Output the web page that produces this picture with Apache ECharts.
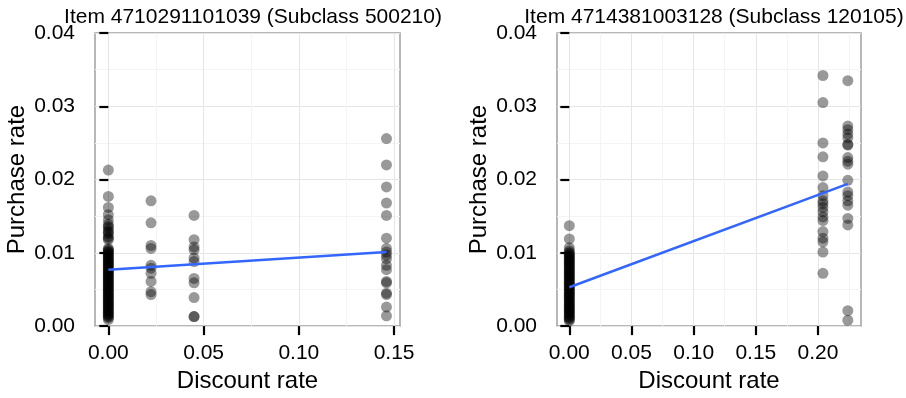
<!DOCTYPE html>
<html>
<head>
<meta charset="utf-8">
<script src="https://cdn.jsdelivr.net/npm/echarts@6/dist/echarts.min.js"></script>
<style>
    html, body { margin: 0; padding: 0; background: #fff; }
    #chart { width: 906px; height: 398px; }
</style>
</head>
<body>
<div id="chart"></div>
<script>
    // left panel: Item 4710291101039
    const title1 = 'Item 4710291101039 (Subclass 500210)';
    const discounts1 = [0, 0.0224, 0.045, 0.146];
    const rates1 = [
        [0.0213, 0.0177, 0.0162, 0.0152, 0.0145, 0.0139, 0.0136, 0.0134, 0.0130, 0.0128, 0.0126,
         0.0122, 0.0120, 0.0118,
         0.0106, 0.0103, 0.0100, 0.0097, 0.0094, 0.0091, 0.0088, 0.0085, 0.0082, 0.0079, 0.0076,
         0.0073, 0.0070, 0.0067, 0.0064, 0.0061, 0.0058, 0.0055, 0.0052, 0.0049, 0.0046, 0.0043,
         0.0040, 0.0037, 0.0034, 0.0031, 0.0028, 0.0025, 0.0022, 0.0019, 0.0016, 0.0013, 0.0009,
         0.01045, 0.01015, 0.00985, 0.00955, 0.00925, 0.00895, 0.00865, 0.00835, 0.00805, 0.00775,
         0.00745, 0.00715, 0.00685, 0.00655, 0.00625, 0.00595, 0.00565, 0.00535, 0.00505, 0.00475,
         0.00445, 0.00415, 0.00385, 0.00355, 0.00325, 0.00295, 0.00265, 0.00235, 0.00205, 0.00175,
         0.00145, 0.00115],
        [0.0171, 0.0141, 0.0110, 0.0106, 0.0083, 0.0079, 0.0072, 0.0061, 0.0047, 0.0043],
        [0.0151, 0.0118, 0.0108, 0.0104, 0.0093, 0.0088, 0.0065, 0.0059, 0.0039, 0.0013, 0.0013],
        [0.0256, 0.0220, 0.0190, 0.0168, 0.0151, 0.0120, 0.0106, 0.0101, 0.0097, 0.0092, 0.0083,
         0.0077, 0.0061, 0.0059, 0.0045, 0.0043, 0.0026, 0.0014]
    ];
    const fitX1 = [0, 0.146];
    const fitY1 = [0.0077, 0.0101];
    const xTicks1 = [0, 0.05, 0.10, 0.15];
    const xMinor1 = [0.025, 0.075, 0.125];

    // right panel: Item 4714381003128
    const title2 = 'Item 4714381003128 (Subclass 120105)';
    const discounts2 = [0, 0.204, 0.224];
    const rates2 = [
        [0.0137, 0.0119, 0.0107, 0.0103, 0.0099, 0.0096, 0.0093, 0.0090, 0.0087, 0.0084, 0.0081,
         0.0078, 0.0075, 0.0072, 0.0069, 0.0066, 0.0063, 0.0060, 0.0057, 0.0054, 0.0051, 0.0048,
         0.0045, 0.0042, 0.0039, 0.0036, 0.0033, 0.0030, 0.0027, 0.0024, 0.0021, 0.0018, 0.0015,
         0.0012, 0.0009, 0.0007,
         0.01005, 0.00975, 0.00945, 0.00915, 0.00885, 0.00855, 0.00825, 0.00795, 0.00765, 0.00735,
         0.00705, 0.00675, 0.00645, 0.00615, 0.00585, 0.00555, 0.00525, 0.00495, 0.00465, 0.00435,
         0.00405, 0.00375, 0.00345, 0.00315, 0.00285, 0.00255, 0.00225, 0.00195, 0.00165, 0.00135,
         0.00105],
        [0.0342, 0.0305, 0.0250, 0.0231, 0.0205, 0.0189, 0.0178, 0.0171, 0.0167, 0.0162, 0.0156,
         0.0149, 0.0144, 0.0129, 0.0120, 0.0115, 0.0101, 0.0072],
        [0.0335, 0.0273, 0.0268, 0.0262, 0.0257, 0.0248, 0.0247, 0.0230, 0.0225, 0.0221, 0.0199,
         0.0183, 0.0178, 0.0171, 0.0165, 0.0147, 0.0138, 0.0021, 0.0008]
    ];
    const fitX2 = [0, 0.224];
    const fitY2 = [0.0053, 0.0194];
    const xTicks2 = [0, 0.05, 0.10, 0.15, 0.20];
    const xMinor2 = [0.025, 0.075, 0.125, 0.175, 0.225];

    const FONT = "'Liberation Sans', Arial, sans-serif";

    function toPoints(xs, ys) {
        let pts = [];
        xs.forEach((x, i) => {
            ys[i].forEach(y => pts.push([x, y]));
        });
        return pts;
    }
    function toLine(xs, ys) {
        return xs.map((x, i) => [x, ys[i]]);
    }
    const fmt = v => v.toFixed(2);

    function majorX(gridIndex, min, max, ticks) {
        return {
            type: 'value', gridIndex: gridIndex, min: min, max: max,
            axisLine: { show: false },
            axisTick: { show: true, customValues: ticks, length: 9, lineStyle: { color: '#000', width: 2.2 } },
            axisLabel: { customValues: ticks, formatter: fmt, fontSize: 21, color: '#000', fontFamily: FONT, margin: 17 },
            splitLine: { show: true, lineStyle: { color: '#e5e5e5', width: 1 } },
            name: 'Discount rate', nameLocation: 'middle', nameGap: 42,
            nameTextStyle: { fontSize: 24, color: '#000', fontFamily: FONT }
        };
    }
    function minorX(gridIndex, min, max, ticks) {
        return {
            type: 'value', gridIndex: gridIndex, min: min, max: max, position: 'bottom',
            axisLine: { show: false },
            axisTick: { show: false, customValues: ticks },
            axisLabel: { show: false, customValues: ticks },
            splitLine: { show: true, lineStyle: { color: '#f4f4f4', width: 1 } }
        };
    }
    function yAxis(gridIndex) {
        return {
            type: 'value', gridIndex: gridIndex, min: 0, max: 0.04, interval: 0.01,
            axisLine: { show: false },
            axisTick: { show: true, length: 9, lineStyle: { color: '#000', width: 2.2 } },
            axisLabel: { formatter: fmt, fontSize: 21, color: '#000', fontFamily: FONT, margin: 20 },
            splitLine: { show: true, lineStyle: { color: '#e5e5e5', width: 1 } },
            minorTick: { show: false, splitNumber: 2 },
            minorSplitLine: { show: true, lineStyle: { color: '#f4f4f4', width: 1 } },
            name: 'Purchase rate', nameLocation: 'middle', nameGap: 66, nameRotate: 90,
            nameTextStyle: { fontSize: 24, color: '#000', fontFamily: FONT }
        };
    }
    function scatter(xIndex, yIndex, data) {
        return {
            type: 'scatter', xAxisIndex: xIndex, yAxisIndex: yIndex, data: data,
            symbolSize: 11, itemStyle: { color: 'rgba(0,0,0,0.5)' }, z: 2
        };
    }
    function fitLine(xIndex, yIndex, data) {
        return {
            type: 'line', xAxisIndex: xIndex, yAxisIndex: yIndex, data: data,
            symbol: 'none', lineStyle: { color: '#3366ff', width: 2.5 }, z: 3
        };
    }
    const titleStyle = { fontSize: 21, fontWeight: 'normal', color: '#000', fontFamily: FONT };

    const option = {
        animation: false,
        backgroundColor: '#fff',
        title: [
            { text: title1, left: 248, top: 2, textAlign: 'center', textStyle: titleStyle },
            { text: title2, left: 709, top: 2, textAlign: 'center', textStyle: titleStyle }
        ],
        grid: [
            { left: 95, top: 33, width: 305, height: 295, show: true, borderColor: '#a0a0a0', borderWidth: 1.5, backgroundColor: '#fff' },
            { left: 557, top: 33, width: 304, height: 295, show: true, borderColor: '#a0a0a0', borderWidth: 1.5, backgroundColor: '#fff' }
        ],
        xAxis: [
            majorX(0, -0.007, 0.1531, xTicks1),
            minorX(0, -0.007, 0.1531, xMinor1),
            majorX(1, -0.0099, 0.2346, xTicks2),
            minorX(1, -0.0099, 0.2346, xMinor2)
        ],
        yAxis: [yAxis(0), yAxis(1)],
        series: [
            scatter(0, 0, toPoints(discounts1, rates1)),
            fitLine(0, 0, toLine(fitX1, fitY1)),
            scatter(2, 1, toPoints(discounts2, rates2)),
            fitLine(2, 1, toLine(fitX2, fitY2))
        ]
    };

    const chart = echarts.init(document.getElementById('chart'));
    chart.setOption(option);
</script>
</body>
</html>
